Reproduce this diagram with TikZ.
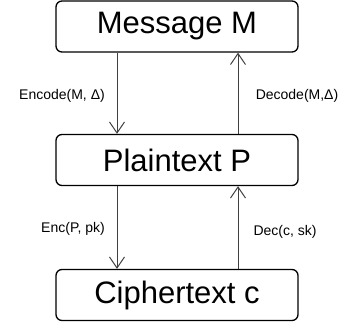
\documentclass[tikz,border=0pt]{standalone}
\usepackage{fontspec}
\setmainfont{Liberation Sans}
\usepackage{tikz}
\usetikzlibrary{arrows.meta}

\tikzset{
    stagebox/.style={draw, line width=1.3pt, rounded corners=6pt,
        minimum width=242pt, minimum height=51pt, inner sep=0pt,
        font=\fontsize{31}{35}\selectfont},
    arr/.style={black!75, line width=1pt,
        -{Straight Barb[length=11pt, width=15pt, line width=1pt]}},
    lbl/.style={font=\fontsize{14}{16}\selectfont, inner sep=0pt}
}

\begin{document}
\begin{tikzpicture}[x=1pt, y=-1pt]
    \useasboundingbox (0, 0) rectangle (347, 329);

    % the three stages
    \node[stagebox] (msg) at (177, 26.5) {Message M};
    \node[stagebox] (plain) at (177, 160) {Plaintext P};
    \node[stagebox] (cipher) at (177, 295) {Ciphertext c};

    % columns of the arrows
    \coordinate (down) at (117, 0);
    \coordinate (up) at (238, 0);

    % encoding side
    \draw[arr] (msg.south -| down) -- (plain.north -| down);
    \draw[arr] (plain.south -| down) -- (cipher.north -| down);
    \node[lbl] (encode) at (62, 96) {Encode(M, Δ)};
    \node[lbl] (enc) at (73, 229) {Enc(P, pk)};

    % decoding side
    \draw[arr] (plain.north -| up) -- (msg.south -| up);
    \draw[arr] (cipher.north -| up) -- (plain.south -| up);
    \node[lbl] (decode) at (297, 96) {Decode(M,Δ)};
    \node[lbl] (dec) at (285, 232) {Dec(c, sk)};
\end{tikzpicture}
\end{document}
